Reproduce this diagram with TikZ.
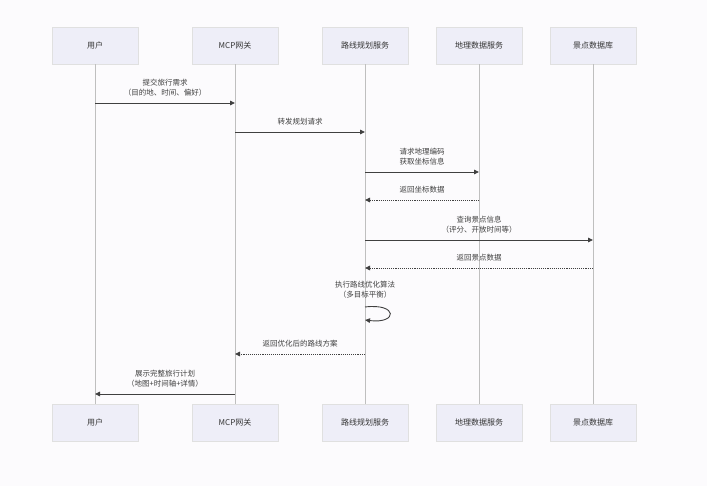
\documentclass[tikz,border=0pt]{standalone}
\usepackage{fontspec}
\setmainfont{Noto Sans CJK SC}
\usetikzlibrary{arrows.meta}
\definecolor{bgc}{RGB}{252,251,253}
\definecolor{boxc}{RGB}{238,238,248}
\begin{document}
\begin{tikzpicture}[x=1pt,y=-1pt,
  box/.style={draw=black!12,fill=boxc,minimum width=86pt,minimum height=37pt,font=\fontsize{8}{9}\selectfont,text=black!80},
  life/.style={draw=black!25,line width=0.7pt},
  msg/.style={draw=black!75,line width=0.9pt,-{Triangle[length=5pt,width=4.5pt]}},
  ret/.style={msg,densely dotted},
  lbl/.style={font=\fontsize{7.5}{10}\selectfont,text=black!75,align=center,anchor=south}]
\fill[bgc] (0,0) rectangle (707,486);
\useasboundingbox (0,0) rectangle (707,486);
\foreach \n/\x/\t in {u/95/用户,g/235/MCP网关,r/365/路线规划服务,d/479/地理数据服务,s/593/景点数据库}{
  \node[box] (\n t) at (\x,45.5) {\t};
  \node[box] (\n b) at (\x,422.5) {\t};
  \draw[life] (\n t) -- (\n b);
}
\coordinate (a1) at (95,103); \coordinate (b1) at (235,103);
\draw[msg] (a1) -- (b1) node[lbl,midway,above=3pt] {提交旅行需求\\（目的地、时间、偏好）};
\coordinate (a2) at (235,132); \coordinate (b2) at (365,132);
\draw[msg] (a2) -- (b2) node[lbl,midway,above=3pt] {转发规划请求};
\coordinate (a3) at (365,172); \coordinate (b3) at (479,172);
\draw[msg] (a3) -- (b3) node[lbl,midway,above=3pt] {请求地理编码\\获取坐标信息};
\coordinate (a4) at (479,200); \coordinate (b4) at (365,200);
\draw[ret] (a4) -- (b4) node[lbl,midway,above=3pt] {返回坐标数据};
\coordinate (a5) at (365,240); \coordinate (b5) at (593,240);
\draw[msg] (a5) -- (b5) node[lbl,midway,above=3pt] {查询景点信息\\（评分、开放时间等）};
\coordinate (a6) at (593,268); \coordinate (b6) at (365,268);
\draw[ret] (a6) -- (b6) node[lbl,midway,above=3pt] {返回景点数据};
\coordinate (a7) at (365,307); \coordinate (b7) at (365,320);
\node[lbl] (l7) at (365,302) {执行路线优化算法\\（多目标平衡）};
\draw[msg] (a7) .. controls (398,303) and (398,324) .. (b7);
\coordinate (a8) at (365,354); \coordinate (b8) at (235,354);
\draw[ret] (a8) -- (b8) node[lbl,midway,above=3pt] {返回优化后的路线方案};
\coordinate (a9) at (235,394); \coordinate (b9) at (95,394);
\draw[msg] (a9) -- (b9) node[lbl,midway,above=3pt] {展示完整旅行计划\\（地图+时间轴+详情）};
\end{tikzpicture}
\end{document}
